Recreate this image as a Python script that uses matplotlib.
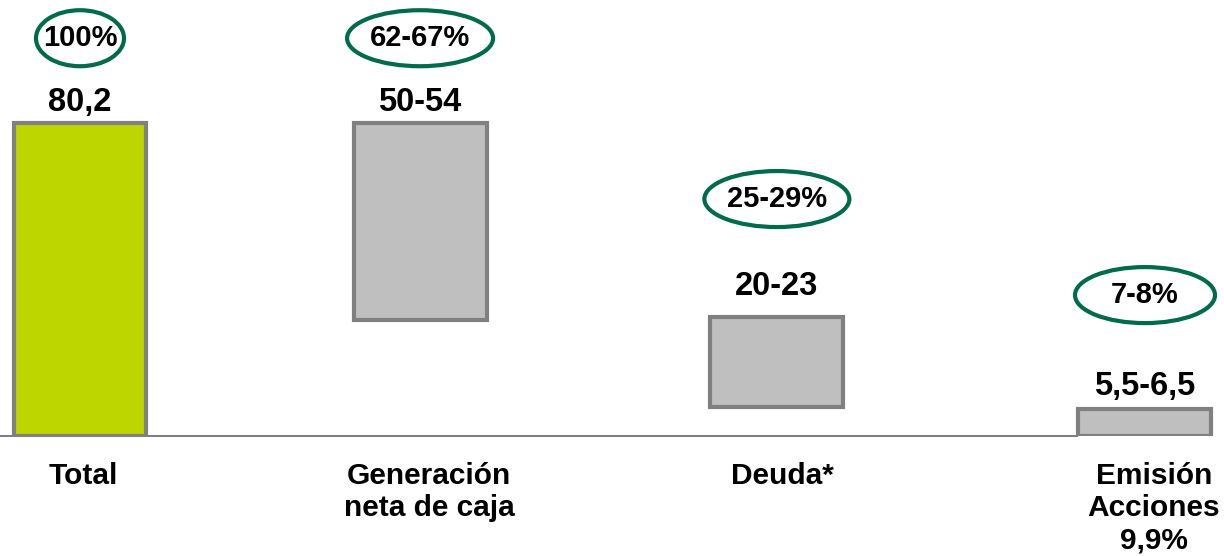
import matplotlib.pyplot as plt
from matplotlib.patches import Ellipse

# data
categories = ['Total', 'Generación\nneta de caja', 'Deuda*', 'Emisión\nAcciones\n9,9%']
bar_tops = [80.2, 80.2, 30.5, 6.9]
bar_bottoms = [0.0, 29.7, 7.4, 0.0]
value_labels = ['80,2', '50-54', '20-23', '5,5-6,5']
pct_labels = ['100%', '62-67%', '25-29%', '7-8%']

plt.rcParams['font.family'] = ['Liberation Sans', 'DejaVu Sans']

GREEN_BAR = '#BED600'
GRAY_BAR = '#BFBFBF'
EDGE = '#808080'
OVAL = '#006B4A'

fig = plt.figure(figsize=(12.24, 5.56), dpi=100)
ax = fig.add_axes([0, 120 / 556, 1, 436 / 556])
px_x = 355.0   # pixels per x unit
px_y = 3.9     # pixels per y unit
ax.set_xlim(-80 / px_x, 3 + 79 / px_x)
ax.set_ylim(0, 436 / px_y)
ax.axis('off')

xpos = [0, 0.958, 1.963, 3.0]
heights = [t - b for t, b in zip(bar_tops, bar_bottoms)]
colors = [GREEN_BAR] + [GRAY_BAR] * 3
ax.bar(xpos, heights, bottom=bar_bottoms, width=133 / px_x, color=colors,
       edgecolor=EDGE, linewidth=3, zorder=3)

# baseline
ax.plot([-80 / px_x, xpos[3] - 68 / px_x], [0, 0], color=EDGE, lw=1.5,
        clip_on=False, zorder=2)

# value labels and oval percentages (offsets in pixels above bar top)
val_off = [21, 21, 31, 23]
oval_off = [85, 85, 118, 114]
oval_w = [88, 146, 145, 140]
for i, x in enumerate(xpos):
    top = bar_tops[i]
    ax.text(x, top + val_off[i] / px_y, value_labels[i], ha='center', va='center',
            fontsize=23.5, fontweight='bold')
    yo = top + oval_off[i] / px_y
    ax.add_patch(Ellipse((x, yo), oval_w[i] / px_x, 56 / px_y,
                         facecolor='none', edgecolor=OVAL, lw=3, clip_on=False, zorder=4))
    ax.text(x, yo, pct_labels[i], ha='center', va='center', fontsize=21,
            fontweight='bold')

# category labels, slightly right of bar centres as in the original
lab_dx = [3, 9, 6, 9]
for x, dx, c in zip(xpos, lab_dx, categories):
    ax.text(x + dx / px_x, -26 / px_y, c, ha='center', va='top', fontsize=21.5,
            fontweight='bold', linespacing=1.2, clip_on=False)

fig.savefig('out.png', dpi=100)
